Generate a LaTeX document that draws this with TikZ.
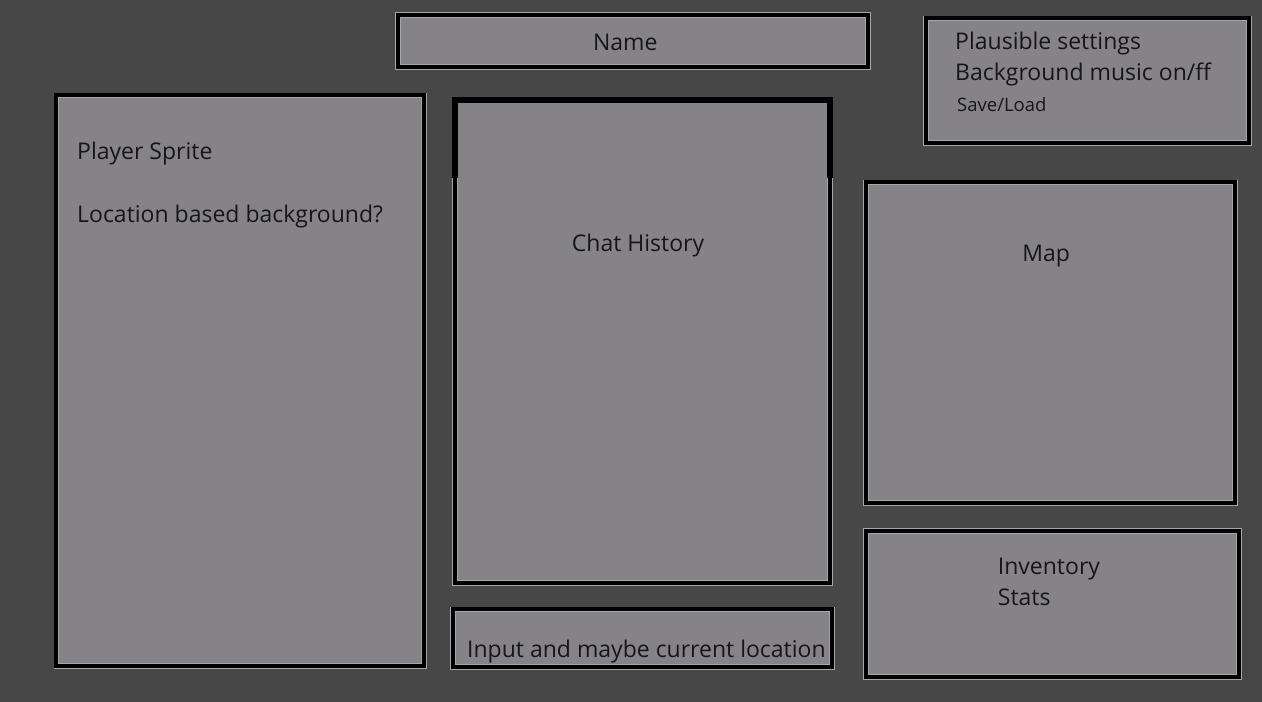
\documentclass[tikz,border=0pt]{standalone}
\usepackage{fontspec}
\setmainfont{Open Sans}
\usetikzlibrary{positioning,calc,backgrounds}
\definecolor{screenbg}{HTML}{474747}
\definecolor{panelfill}{HTML}{858388}
\definecolor{panelrim}{HTML}{A6A6A6}
\definecolor{inkgray}{HTML}{161616}
\tikzset{
   panel/.style     = {rectangle, draw=panelrim, line width=0.8pt, double=black,
                       double distance=4pt, fill=panelfill, inner sep=0pt, outer sep=0pt},
   paneltext/.style = {font=\fontsize{23}{28}\selectfont, text=inkgray, inner sep=0pt},
   smalltext/.style = {font=\fontsize{18.5}{22}\selectfont, text=inkgray, inner sep=0pt},
   chattop/.style   = {-, draw=black, line width=5.6pt},
}

\begin{document}
\begin{tikzpicture}[x=1pt,y=-1pt]

      \fill[screenbg] (0,0) rectangle (1262,702);
      \useasboundingbox (0,0) rectangle (1262,702);

      % panels
      \node[panel, minimum width=470.4pt, minimum height=52.4pt]  (name)      at (633,41)        {};
      \node[panel, minimum width=322.9pt, minimum height=124.9pt] (settings)  at (1087.25,80.75) {};
      \node[panel, minimum width=367.9pt, minimum height=570.9pt] (player)    at (240.25,380.75) {};
      \node[panel, minimum width=375.4pt, minimum height=483.4pt] (chat)      at (642.5,341.5)   {};
      \node[panel, minimum width=379.4pt, minimum height=57.9pt]  (input)     at (642.5,638.25)  {};
      \node[panel, minimum width=368.9pt, minimum height=320.9pt] (map)       at (1050.25,342.75){};
      \node[panel, minimum width=372.9pt, minimum height=146.4pt] (inventory) at (1052.25,604)   {};

      \draw[chattop] ([yshift=-78.2pt]chat.north west) -- (chat.north west)
                  -- (chat.north east) -- ([yshift=-78.2pt]chat.north east);

      % texts
      \node[paneltext, anchor=base]      (nametext)   at (625.3,50.7)  {Name};
      \node[paneltext, anchor=base west] (plausible)  at (955,49.3)    {Plausible settings};
      \node[paneltext, anchor=base west] (music)      at (955,80.7)    {Background music on/ff};
      \node[smalltext, anchor=base west] (saveload)   at (957,111)     {Save/Load};
      \node[paneltext, anchor=base west] (sprite)     at (77,159.3)    {Player Sprite};
      \node[paneltext, anchor=base west] (locbg)      at (77,222.3)    {Location based background?};
      \node[paneltext, anchor=base]      (history)    at (638,251.7)   {Chat History};
      \node[paneltext, anchor=base west] (inputtext)  at (467,657.7)   {Input and maybe current location};
      \node[paneltext, anchor=base]      (maptext)    at (1046.2,261.7){Map};
      \node[paneltext, anchor=base west] (invtext)    at (997.7,574)   {Inventory};
      \node[paneltext, anchor=base west] (stats)      at (997.7,605)   {Stats};

   \end{tikzpicture}
\end{document}
